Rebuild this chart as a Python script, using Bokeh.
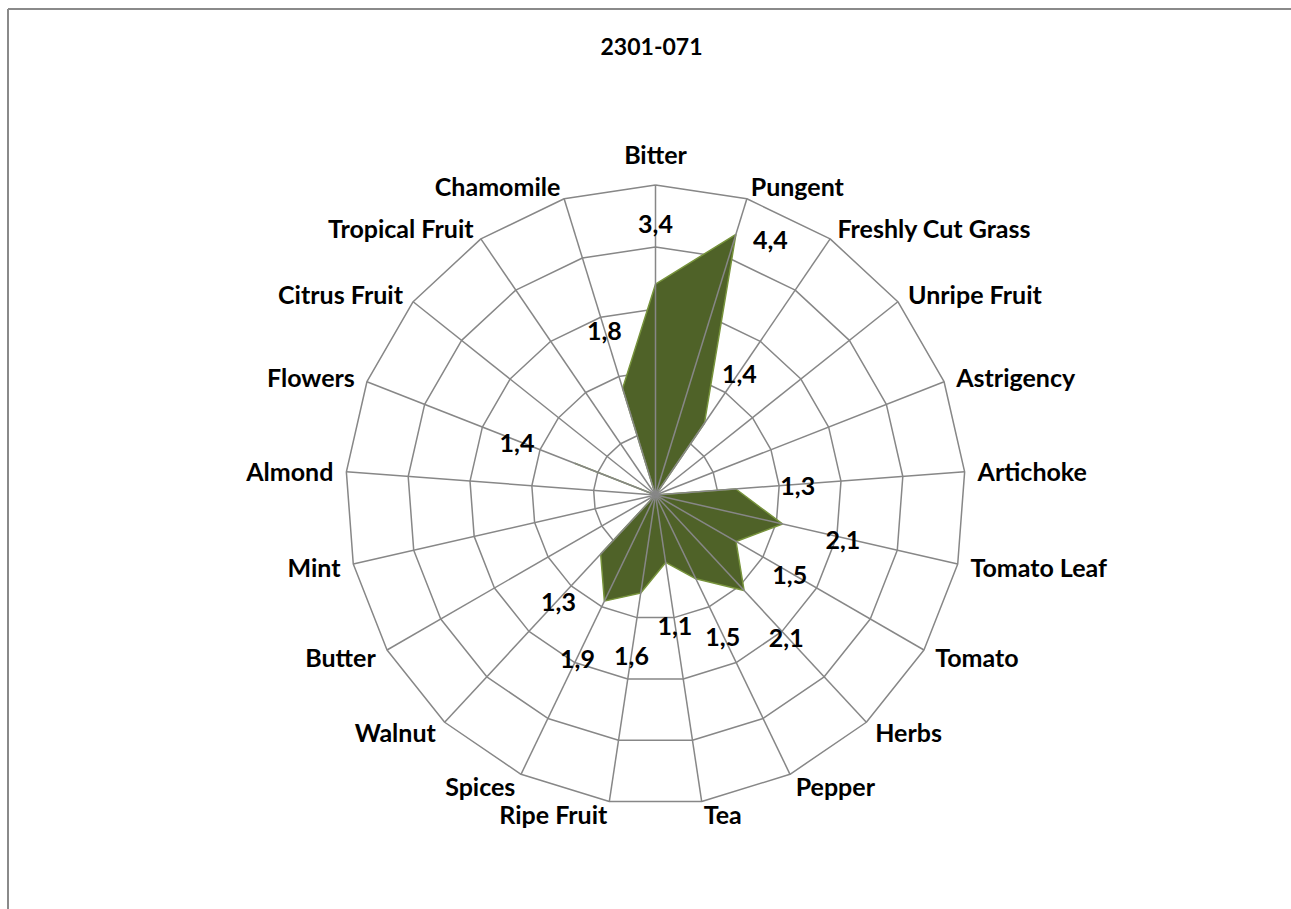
import math
from bokeh.plotting import figure
from bokeh.models import Range1d, Label
from bokeh.core.properties import value
from bokeh.embed import file_html
from bokeh.resources import INLINE

# ---------------- data ----------------
categories = ["Bitter", "Pungent", "Freshly Cut Grass", "Unripe Fruit", "Astrigency",
              "Artichoke", "Tomato Leaf", "Tomato", "Herbs", "Pepper", "Tea",
              "Ripe Fruit", "Spices", "Walnut", "Butter", "Mint", "Almond",
              "Flowers", "Citrus Fruit", "Tropical Fruit", "Chamomile"]
values = [3.4, 4.4, 1.4, 0, 0, 1.3, 2.1, 1.5, 2.1, 1.5, 1.1,
          1.6, 1.9, 1.3, 0, 0, 0, 1.4, 0, 0, 1.8]
ring_levels = [1, 2, 3, 4, 5]
title_text = "2301-071"

# ---------------- layout ----------------
W, H = 1291, 909
PX = 62.0               # pixels per value unit
CX, CY = 655.0, 494.5   # radar centre in figure pixels (from top-left)
BX, BY = 7.5, 8.5       # chart border offset (left, top)
RMAX = max(ring_levels)
FONT = "Lato"
FS = "25px"
GRID = "#878787"
FILL = "#4F6228"
EDGE = "#77933C"

N = len(categories)
ang = [2 * math.pi * i / N for i in range(N)]
sn = [math.sin(a) for a in ang]
cs = [math.cos(a) for a in ang]

x0, x1 = -CX / PX, (W - CX) / PX
y0, y1 = -(H - CY) / PX, CY / PX

p = figure(width=W, height=H,
           x_range=Range1d(x0, x1), y_range=Range1d(y0, y1),
           output_backend="svg", toolbar_location=None,
           x_axis_type=None, y_axis_type=None, min_border=0)
p.outline_line_color = None
p.background_fill_color = "white"
p.border_fill_color = "white"

# chart border (only top and left edges fall inside the window)
bx, by = -(CX - BX) / PX, (CY - BY) / PX
p.segment(x0=[bx, bx], y0=[by, by], x1=[x1 + 1, bx], y1=[by, y0 - 1],
          line_color="#8a8a8a", line_width=2)

# rings
rx = [[lv * sn[i % N] for i in range(N + 1)] for lv in ring_levels]
ry = [[lv * cs[i % N] for i in range(N + 1)] for lv in ring_levels]
p.multi_line(rx, ry, line_color=GRID, line_width=1.5)

# data polygon
px_ = [v * s for v, s in zip(values, sn)]
py_ = [v * c for v, c in zip(values, cs)]
p.patch(px_, py_, fill_color=FILL, line_color=EDGE, line_width=1.5)

# spokes (drawn over fill)
p.multi_line([[0, RMAX * s] for s in sn], [[0, RMAX * c] for c in cs],
             line_color=GRID, line_width=1.5)

# category labels
groups = {}
for i, name in enumerate(categories):
    vx, vy = RMAX * sn[i], RMAX * cs[i]
    if abs(sn[i]) < 0.01:
        key = ("center", "middle")
        x, y = vx, vy + 31 / PX
    else:
        key = ("left" if sn[i] > 0 else "right", "middle")
        x = vx + 13 * sn[i] / PX
        y = vy + 13 * cs[i] / PX
    groups.setdefault(key, {"x": [], "y": [], "t": []})
    groups[key]["x"].append(x)
    groups[key]["y"].append(y)
    groups[key]["t"].append(name)
for (al, bl), d in groups.items():
    p.text(x=d["x"], y=d["y"], text=d["t"], text_align=al, text_baseline=bl,
           text_font=value(FONT), text_font_style="bold", text_font_size=FS,
           text_color="black")

# data labels
dl = {"x": [], "y": [], "t": []}
dr = {"x": [], "y": [], "t": []}
for i, v in enumerate(values):
    if v <= 0:
        continue
    lab = f"{v:.1f}".replace(".", ",")
    if v + 1 > RMAX:
        dr["x"].append(v * sn[i] + 17 / PX)
        dr["y"].append(v * cs[i] - 6 / PX)
        dr["t"].append(lab)
    else:
        r = v + 1.0
        dl["x"].append(r * sn[i])
        dl["y"].append(r * cs[i] - 2 / PX)
        dl["t"].append(lab)
p.text(x=dl["x"], y=dl["y"], text=dl["t"], text_align="center", text_baseline="middle",
       text_font=value(FONT), text_font_style="bold", text_font_size=FS, text_color="black")
p.text(x=dr["x"], y=dr["y"], text=dr["t"], text_align="left", text_baseline="middle",
       text_font=value(FONT), text_font_style="bold", text_font_size=FS, text_color="black")

# title
p.add_layout(Label(x=-4 / PX, y=(CY - 45.5) / PX, text=title_text, text_align="center",
                   text_baseline="middle", text_font=FONT, text_font_style="bold",
                   text_font_size="23px", text_color="black"))

open("out.html", "w").write(file_html(p, INLINE))
